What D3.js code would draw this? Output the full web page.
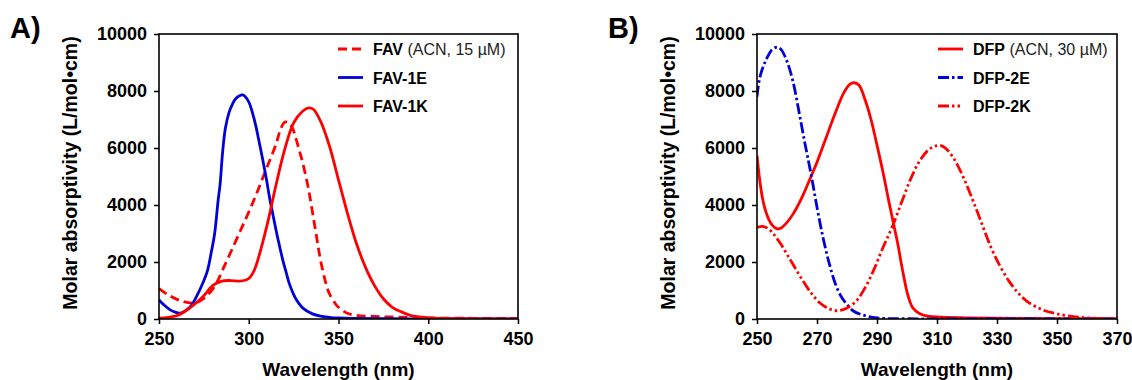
<!DOCTYPE html>
<html>
<head>
<meta charset="utf-8">
<script src="https://cdn.jsdelivr.net/npm/d3@7"></script>
<style>
  body { margin: 0; background: #fff; }
  text { font-family: "Liberation Sans", Arial, sans-serif; }
</style>
</head>
<body>
<div id="chart"></div>
<script>
// ---- data (wavelength nm, molar absorptivity) ----
var yTicks = [0, 2000, 4000, 6000, 8000, 10000];
var xTicksA = [250, 300, 350, 400, 450];
var xTicksB = [250, 270, 290, 310, 330, 350, 370];

var FAV = [[250,1070],[255,850],[260,690],[265,590],[270,560],[275,720],[280,1060],[283,1380],
  [286,1800],[290,2350],[295,3050],[300,3750],[305,4500],[310,5300],[315,6100],[318,6700],
  [320,6900],[322,6900],[324,6750],[326,6400],[328,5950],[330,5500],[333,4650],[335,3940],[338,2800],[340,2060],
  [343,1250],[345,880],[348,560],[350,410],[355,200],[360,130],[370,90],[380,70],[400,40],[425,25],[450,20]];

var FAV1E = [[250,670],[253,480],[256,330],[259,240],[262,210],[265,300],[268,470],[271,800],[274,1200],
  [277,1700],[279,2300],[281,3000],[283,4200],[284,4700],[285.5,5900],[287,6700],[289,7240],[291,7550],
  [293,7750],[296.7,7860],[300,7620],[302,7250],[304,6760],[306,6150],[307.8,5590],[310,4850],[311.5,4290],
  [313.5,3650],[315.2,3120],[317,2600],[319,2060],[321,1600],[322.6,1240],[324.5,930],[326.3,700],[330,390],
  [335.5,180],[340,100],[344.8,60],[350,35],[360,20],[380,8],[400,2],[450,0]];

var FAV1K = [[250,30],[255,60],[260,120],[265,290],[270,530],[275,820],[280,1180],[285,1330],[290,1350],
  [295,1330],[298,1360],[300,1420],[303,1700],[305,2060],[310,3240],[315,4650],[320,5940],[325,6880],
  [330,7290],[333.5,7410],[336,7360],[340,6940],[345,6060],[350,4880],[355,3710],[360,2650],[365,1820],
  [370,1180],[375,710],[380,410],[385,250],[390,130],[395,75],[400,40],[420,12],[450,2]];

var DFP = [[250,5740],[251,4800],[252,4150],[253,3750],[254,3480],[255,3300],[256,3200],[257,3160],
  [258,3190],[260,3390],[262,3680],[265,4270],[268,5000],[270,5500],[273,6350],[276,7200],[279,7950],
  [281,8240],[282.3,8290],[284,8200],[286,7700],[288,7000],[290,6100],[292,5150],[294,4100],[295.5,3350],
  [297,2600],[298,2000],[299,1450],[300,950],[301,600],[302,380],[304,200],[306,120],[310,70],[320,40],
  [340,20],[370,10]];

var DFP2E = [[250,7800],[251,8500],[253,9090],[255,9450],[256.8,9540],[258,9460],[260,9040],[262,8330],
  [264,7270],[266,6150],[268,5090],[270,3920],[272,2860],[274,1980],[276,1270],[278,800],[280,510],
  [282,290],[285,150],[290,40],[300,10],[320,2],[370,0]];

var DFP2K = [[250,3210],[252,3250],[254,3150],[256,2920],[258,2620],[260,2270],[262,1920],[265,1390],
  [268,920],[271,560],[274,360],[277,290],[280,390],[283,620],[286,1090],[289,1740],[292,2510],[295,3210],
  [298,4040],[301,4860],[304,5510],[307,5920],[309,6050],[311,6090],[313,5980],[316,5560],[319,4920],
  [322,4150],[325,3330],[328,2510],[331,1860],[334,1330],[337,920],[340,620],[345,330],[350,180],
  [355,90],[360,40],[365,15],[370,5]];

var RED = "#ff0000", BLUE = "#0000d8";

var panels = [
  { label: "A)", left: 159, right: 518, xDomain: [250, 450], xTicks: xTicksA,
    series: [
      { data: FAV,   name: "FAV",    extra: " (ACN, 15 \u00b5M)", color: RED,  dash: "9,5" },
      { data: FAV1E, name: "FAV-1E", extra: "", color: BLUE, dash: null },
      { data: FAV1K, name: "FAV-1K", extra: "", color: RED,  dash: null }
    ], legendX: 338 },
  { label: "B)", left: 757, right: 1117, xDomain: [250, 370], xTicks: xTicksB,
    series: [
      { data: DFP,   name: "DFP",    extra: " (ACN, 30 \u00b5M)", color: RED,  dash: null },
      { data: DFP2E, name: "DFP-2E", extra: "", color: BLUE, dash: "11,3,2.5,3" },
      { data: DFP2K, name: "DFP-2K", extra: "", color: RED,  dash: "11,3,2.5,3,2.5,3" }
    ], legendX: 938 }
];

var width = 1132, height = 380;
var plotTop = 34, plotBottom = 319;

var svg = d3.select("#chart").append("svg")
  .attr("width", width)
  .attr("height", height)
  .style("background", "#fff");

panels.forEach(function (p, i) {
  var x = d3.scaleLinear().domain(p.xDomain).range([p.left, p.right]);
  var y = d3.scaleLinear().domain([0, 10000]).range([plotBottom, plotTop]);
  var g = svg.append("g");

  // clip to plot box
  svg.append("clipPath").attr("id", "clip" + i)
    .append("rect")
    .attr("x", p.left).attr("y", plotTop)
    .attr("width", p.right - p.left).attr("height", plotBottom - plotTop);

  // axes
  g.append("g")
    .attr("transform", "translate(0," + plotBottom + ")")
    .call(d3.axisBottom(x).tickValues(p.xTicks).tickSize(5).tickPadding(8).tickFormat(d3.format("d")))
    .call(function (a) {
      a.select(".domain").remove();
      a.selectAll("line").attr("stroke", "#000").attr("stroke-width", 1.5);
      a.selectAll("text").attr("font-size", 18).attr("font-weight", "bold").attr("fill", "#000")
        .attr("font-family", "'Liberation Sans', Arial, sans-serif");
    });

  g.append("g")
    .attr("transform", "translate(" + p.left + ",0)")
    .call(d3.axisLeft(y).tickValues(yTicks).tickSize(5).tickPadding(7).tickFormat(d3.format("d")))
    .call(function (a) {
      a.select(".domain").remove();
      a.selectAll("line").attr("stroke", "#000").attr("stroke-width", 1.5);
      a.selectAll("text").attr("font-size", 18).attr("font-weight", "bold").attr("fill", "#000")
        .attr("font-family", "'Liberation Sans', Arial, sans-serif");
    });

  // curves
  var line = d3.line()
    .x(function (d) { return x(d[0]); })
    .y(function (d) { return y(d[1]); })
    .curve(d3.curveCatmullRom.alpha(0.5));

  var curves = g.append("g").attr("clip-path", "url(#clip" + i + ")");
  p.series.forEach(function (s) {
    curves.append("path")
      .datum(s.data)
      .attr("d", line)
      .attr("fill", "none")
      .attr("stroke", s.color)
      .attr("stroke-width", 2.8)
      .attr("stroke-dasharray", s.dash);
  });

  // frame
  g.append("rect")
    .attr("x", p.left).attr("y", plotTop)
    .attr("width", p.right - p.left).attr("height", plotBottom - plotTop)
    .attr("fill", "none").attr("stroke", "#000").attr("stroke-width", 1.6);

  // axis titles
  g.append("text")
    .attr("x", (p.left + p.right) / 2).attr("y", 376)
    .attr("text-anchor", "middle")
    .attr("font-size", 19).attr("font-weight", "bold")
    .text("Wavelength (nm)");

  g.append("text")
    .attr("transform", "translate(" + (p.left - 82) + "," + 173 + ") rotate(-90)")
    .attr("text-anchor", "middle")
    .attr("font-size", 19.5).attr("font-weight", "bold")
    .text("Molar absorptivity (L/mol\u2022cm)");

  // panel letter
  g.append("text")
    .attr("x", p.left - 149).attr("y", 38)
    .attr("font-size", 29).attr("font-weight", "bold")
    .text(p.label);

  // legend
  var rowY = [49, 77.5, 106];
  p.series.forEach(function (s, k) {
    g.append("line")
      .attr("x1", p.legendX).attr("x2", p.legendX + 25)
      .attr("y1", rowY[k]).attr("y2", rowY[k])
      .attr("stroke", s.color).attr("stroke-width", 2.8)
      .attr("stroke-dasharray", s.dash);
    var t = g.append("text")
      .attr("x", p.legendX + 35).attr("y", rowY[k] + 6)
      .attr("font-size", 16);
    t.append("tspan").attr("font-weight", "bold").text(s.name);
    if (s.extra) t.append("tspan").attr("fill", "#222").text(s.extra);
  });
});
</script>
</body>
</html>
